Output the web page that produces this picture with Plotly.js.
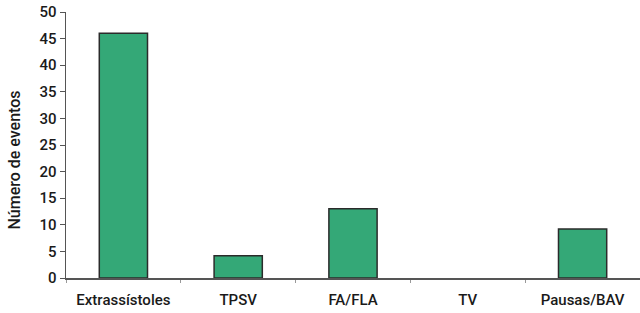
<!DOCTYPE html>
<html><head><meta charset="utf-8">
<script src="https://cdn.plot.ly/plotly-3.0.1.min.js"></script>
<style>html,body{margin:0;padding:0;background:#fff}#c{width:640px;height:313px}</style>
</head><body><div id="c"></div>
<script>
const categories = ["Extrassístoles", "TPSV", "FA/FLA", "TV", "Pausas/BAV"];
const eventos = [46, 4.2, 13, 0, 9.2];
const yTicks = [0, 5, 10, 15, 20, 25, 30, 35, 40, 45, 50];
const yTitle = "Número de eventos";

Plotly.newPlot("c", [{
  type: "bar",
  x: categories,
  y: eventos,
  width: 0.42,
  marker: {color: "#34a877", line: {color: "#2b2b2b", width: eventos.map(v => v > 0 ? 1.5 : 0)}},
  hoverinfo: "skip"
}], {
  width: 640, height: 313,
  margin: {l: 66, r: 0, t: 12, b: 35, pad: 0},
  paper_bgcolor: "#fff", plot_bgcolor: "#fff",
  showlegend: false,
  font: {family: "Roboto, Liberation Sans, Arial, sans-serif", color: "#1a1a1a", weight: 500},
  xaxis: {
    showline: true, linecolor: "#555", linewidth: 1.5,
    ticks: "outside", tickson: "boundaries", ticklen: 3, tickcolor: "#999",
    tickfont: {size: 15, color: "#1a1a1a", weight: 500},
    ticklabelstandoff: 7,
    showgrid: false, zeroline: false
  },
  yaxis: {
    range: [0, 50], tickvals: yTicks,
    showline: true, linecolor: "#555", linewidth: 1.5,
    ticks: "outside", ticklen: 5, tickcolor: "#555",
    tickfont: {size: 15, color: "#1a1a1a", weight: 500},
    showgrid: false, zeroline: false
  },
  annotations: [{
    text: yTitle, textangle: -90, showarrow: false,
    xref: "paper", yref: "paper", x: -0.089, y: 0.445,
    xanchor: "center", yanchor: "middle",
    font: {size: 16, color: "#1a1a1a", weight: 500}
  }],
  bargap: 0.58
}, {staticPlot: true});
</script></body></html>
